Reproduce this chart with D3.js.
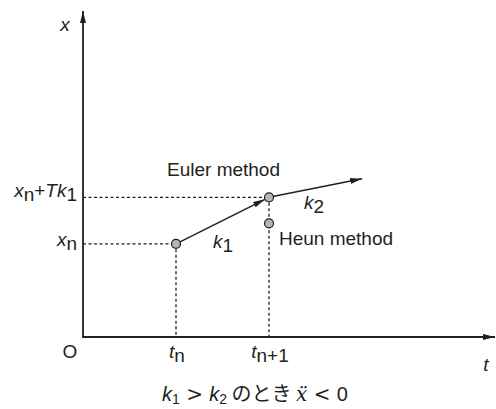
<!DOCTYPE html>
<html>
<head>
<meta charset="utf-8">
<script src="https://cdn.jsdelivr.net/npm/d3@7"></script>
<style>
	body { margin: 0; background: #fff; }
	text { font-family: "Liberation Sans", Arial, sans-serif; fill: #231f20; }
	.it { font-style: italic; }
</style>
</head>
<body>
<script>
// values (1 unit = t_n / x_n)
var tTicks = [1, 2];
var tTickSubs = ['n', 'n+1'];
var eulerPts = [{t: 1, x: 1}, {t: 2, x: 1.5}];
var k2End = {t: 3, x: 1.7};
var heunPt = {t: 2, x: 1.22};

var width = 496, height = 409;
var ink = '#231f20';

var svg = d3.select('body').append('svg')
	.attr('width', width)
	.attr('height', height);

var xs = d3.scaleLinear().domain([0, 4.43]).range([83, 495]);
var ys = d3.scaleLinear().domain([0, 3.5]).range([337, 11]);

var defs = svg.append('defs');
defs.append('marker')
	.attr('id', 'head')
	.attr('viewBox', '0 -3 12 6')
	.attr('refX', 12)
	.attr('refY', 0)
	.attr('markerUnits', 'userSpaceOnUse')
	.attr('markerWidth', 12)
	.attr('markerHeight', 6)
	.attr('orient', 'auto')
	.append('path')
	.attr('d', 'M0,-3L12,0L0,3Z')
	.attr('fill', ink);

// dashed guides
var guides = svg.append('g')
	.attr('stroke', ink)
	.attr('stroke-width', 1.3)
	.attr('stroke-dasharray', '3,2.5')
	.attr('fill', 'none');

eulerPts.forEach(function(p) {
	guides.append('line')
	.attr('x1', xs(0)).attr('y1', ys(p.x))
	.attr('x2', xs(p.t)).attr('y2', ys(p.x));
	guides.append('line')
	.attr('x1', xs(p.t)).attr('y1', ys(p.x))
	.attr('x2', xs(p.t)).attr('y2', ys(0));
});

// axes
svg.append('line')
	.attr('x1', xs(0)).attr('y1', ys(0))
	.attr('x2', xs(0)).attr('y2', ys(3.5))
	.attr('stroke', ink).attr('stroke-width', 1.8)
	.attr('marker-end', 'url(#head)');
svg.append('line')
	.attr('x1', xs(0) - 0.9).attr('y1', ys(0))
	.attr('x2', xs(4.43)).attr('y2', ys(0))
	.attr('stroke', ink).attr('stroke-width', 1.8)
	.attr('marker-end', 'url(#head)');

// euler steps
var r = 4.5;
function shorten(a, b, d) {
	var dx = xs(b.t) - xs(a.t), dy = ys(b.x) - ys(a.x);
	var len = Math.sqrt(dx*dx + dy*dy);
	return {x: xs(b.t) - dx/len*d, y: ys(b.x) - dy/len*d};
}
var e1 = shorten(eulerPts[0], eulerPts[1], r);
svg.append('line')
	.attr('x1', xs(eulerPts[0].t)).attr('y1', ys(eulerPts[0].x))
	.attr('x2', e1.x).attr('y2', e1.y)
	.attr('stroke', ink).attr('stroke-width', 1.5)
	.attr('marker-end', 'url(#head)');
svg.append('line')
	.attr('x1', xs(eulerPts[1].t)).attr('y1', ys(eulerPts[1].x))
	.attr('x2', xs(k2End.t)).attr('y2', ys(k2End.x))
	.attr('stroke', ink).attr('stroke-width', 1.5)
	.attr('marker-end', 'url(#head)');

svg.selectAll('circle.pt')
	.data(eulerPts.concat([heunPt]))
	.enter().append('circle')
	.attr('class', 'pt')
	.attr('cx', function(d) { return xs(d.t); })
	.attr('cy', function(d) { return ys(d.x); })
	.attr('r', r)
	.attr('fill', '#b5b5b5')
	.attr('stroke', ink)
	.attr('stroke-width', 1.2);

// labels
var fs = 19;
function label(x, y, anchor) {
	return svg.append('text')
	.attr('x', x).attr('y', y)
	.attr('text-anchor', anchor || 'start')
	.attr('font-size', fs);
}

label(65, 31, 'middle').attr('class', 'it').text('x');
label(486, 371, 'middle').attr('class', 'it').text('t');
label(70, 358, 'middle').text('O');

tTicks.forEach(function(t, i) {
	var tx = label(xs(t) + 1, 358, 'middle');
	tx.append('tspan').attr('class', 'it').text('t');
	tx.append('tspan').attr('dy', 4).text(tTickSubs[i]);
});

var l1 = label(77, 197, 'end');
l1.append('tspan').attr('class', 'it').text('x');
l1.append('tspan').attr('dy', 4).text('n');
l1.append('tspan').attr('dy', -4).text('+');
l1.append('tspan').attr('class', 'it').text('Tk');
l1.append('tspan').attr('dy', 4).text('1');

var l2 = label(77, 246, 'end');
l2.append('tspan').attr('class', 'it').text('x');
l2.append('tspan').attr('dy', 4).text('n');

label(167, 176).text('Euler method');
label(279, 245).text('Heun method');

var k1 = label(213, 248);
k1.append('tspan').attr('class', 'it').text('k');
k1.append('tspan').attr('dy', 4).text('1');
var k2 = label(304, 209);
k2.append('tspan').attr('class', 'it').text('k');
k2.append('tspan').attr('dy', 4).text('2');

// caption
var cap = svg.append('text')
	.attr('x', 255).attr('y', 401)
	.attr('text-anchor', 'middle')
	.attr('font-size', 20);
cap.append('tspan').attr('class', 'it').text('k');
cap.append('tspan').attr('font-size', 14).attr('dy', 3).text('1');
cap.append('tspan').attr('dy', -3).attr('font-family', 'DejaVu Serif').text(' > ');
cap.append('tspan').attr('class', 'it').text('k');
cap.append('tspan').attr('font-size', 14).attr('dy', 3).text('2');
cap.append('tspan').attr('dy', -3).attr('font-family', 'Noto Sans CJK JP').text(' のとき ');
cap.append('tspan').attr('class', 'it').attr('font-family', 'DejaVu Serif').text('x\u0308');
cap.append('tspan').attr('font-family', 'DejaVu Serif').text(' < ');
cap.append('tspan').text('0');
</script>
</body>
</html>
